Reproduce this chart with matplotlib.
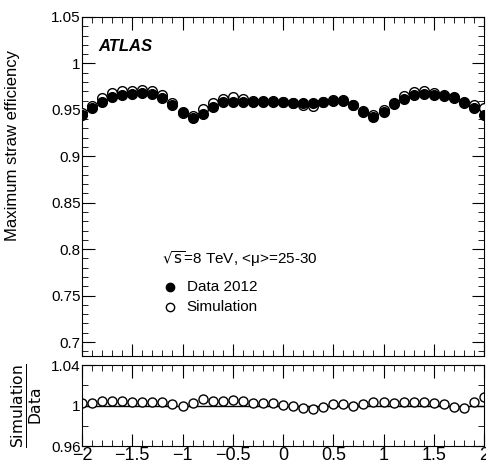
import numpy as np
import matplotlib.pyplot as plt
from matplotlib.ticker import MultipleLocator, FixedLocator

plt.rcParams['font.family'] = ['Liberation Sans', 'DejaVu Sans']
plt.rcParams['font.size'] = 11

eta = np.round(np.arange(-2.0, 2.01, 0.1), 1)
data_eff = [0.9446, 0.9518, 0.959, 0.9634, 0.966, 0.967, 0.968, 0.967, 0.963, 0.9556,
            0.9475, 0.9417, 0.9455, 0.953, 0.958, 0.959, 0.958, 0.958, 0.958, 0.958,
            0.958, 0.957, 0.957, 0.957, 0.959, 0.960, 0.960, 0.955, 0.9475, 0.942,
            0.9475, 0.956, 0.962, 0.966, 0.967, 0.966, 0.965, 0.964, 0.959, 0.952, 0.9446]
ratio = [1.002, 1.0027, 1.004, 1.0045, 1.0045, 1.0035, 1.003, 1.003, 1.003, 1.0015,
         0.9995, 1.002, 1.006, 1.0045, 1.004, 1.005, 1.004, 1.002, 1.002, 1.002,
         1.0005, 1.0, 0.998, 0.997, 0.999, 1.001, 1.001, 1.0, 1.0015, 1.003,
         1.003, 1.002, 1.003, 1.003, 1.003, 1.002, 1.001, 0.999, 0.998, 1.003, 1.008]
sim_eff = np.array(data_eff) * np.array(ratio)

W, H = 486, 472
fig = plt.figure(figsize=(W / 100, H / 100), dpi=100)
ax = fig.add_axes([82 / W, 1 - 356 / H, 402 / W, 339 / H])
axr = fig.add_axes([82 / W, 1 - 446 / H, 402 / W, 81 / H])

ax.plot(eta, sim_eff, 'o', mfc='white', mec='black', ms=7, mew=1, zorder=3)
ax.plot(eta, data_eff, 'o', color='black', ms=7, zorder=4)
ax.set_xlim(-2, 2)
ax.set_ylim(0.685, 1.05)
ax.yaxis.set_major_locator(FixedLocator([0.7, 0.75, 0.8, 0.85, 0.9, 0.95, 1.0, 1.05]))
ax.set_yticklabels(['0.7', '0.75', '0.8', '0.85', '0.9', '0.95', '1', '1.05'])
ax.yaxis.set_minor_locator(MultipleLocator(0.01))
ax.xaxis.set_major_locator(MultipleLocator(0.5))
ax.xaxis.set_minor_locator(MultipleLocator(0.1))
ax.set_xticklabels([])
ax.set_ylabel('Maximum straw efficiency', fontsize=12)
ax.yaxis.set_label_coords(-0.155, 0.62)

ax.text(0.04, 0.9, 'ATLAS', transform=ax.transAxes, fontsize=12,
        fontweight='bold', style='italic')
ax.text(0.2, 0.27, r'$\sqrt{\mathrm{s}}$=8 TeV, <μ>=25-30', transform=ax.transAxes, fontsize=11)
ax.plot([0.22], [0.205], 'o', color='black', ms=6, transform=ax.transAxes)
ax.text(0.26, 0.205, 'Data 2012', transform=ax.transAxes, va='center', fontsize=11)
ax.plot([0.22], [0.145], 'o', mfc='white', mec='black', ms=6, transform=ax.transAxes)
ax.text(0.26, 0.145, 'Simulation', transform=ax.transAxes, va='center', fontsize=11)

axr.axhline(1.0, color='black', lw=1)
axr.plot(eta, ratio, 'o', mfc='white', mec='black', ms=6.5, mew=1)
axr.set_xlim(-2, 2)
axr.set_ylim(0.96, 1.04)
axr.yaxis.set_major_locator(FixedLocator([0.96, 1.0, 1.04]))
axr.set_yticklabels(['0.96', '1', '1.04'])
axr.yaxis.set_minor_locator(MultipleLocator(0.02))
axr.xaxis.set_minor_locator(MultipleLocator(0.1))
axr.set_xticks(np.arange(-2, 2.01, 0.5))
axr.set_xticklabels(['−2', '−1.5', '−1', '−0.5', '0', '0.5', '1', '1.5', '2'])
axr.set_ylabel(r'$\frac{\mathrm{Simulation}}{\mathrm{Data}}$', fontsize=16)
axr.yaxis.set_label_coords(-0.095, 0.5)
axr.text(1.0, -0.36, 'η', transform=axr.transAxes, ha='right', va='top', fontsize=11)

for a in (ax, axr):
    a.tick_params(which='both', direction='in', top=True, right=True, labelsize=11, pad=1)
    a.tick_params(which='major', length=9)
    a.tick_params(which='minor', length=4)
axr.tick_params(axis='x', labelsize=13, pad=1)

fig.savefig('out.png', dpi=100)
